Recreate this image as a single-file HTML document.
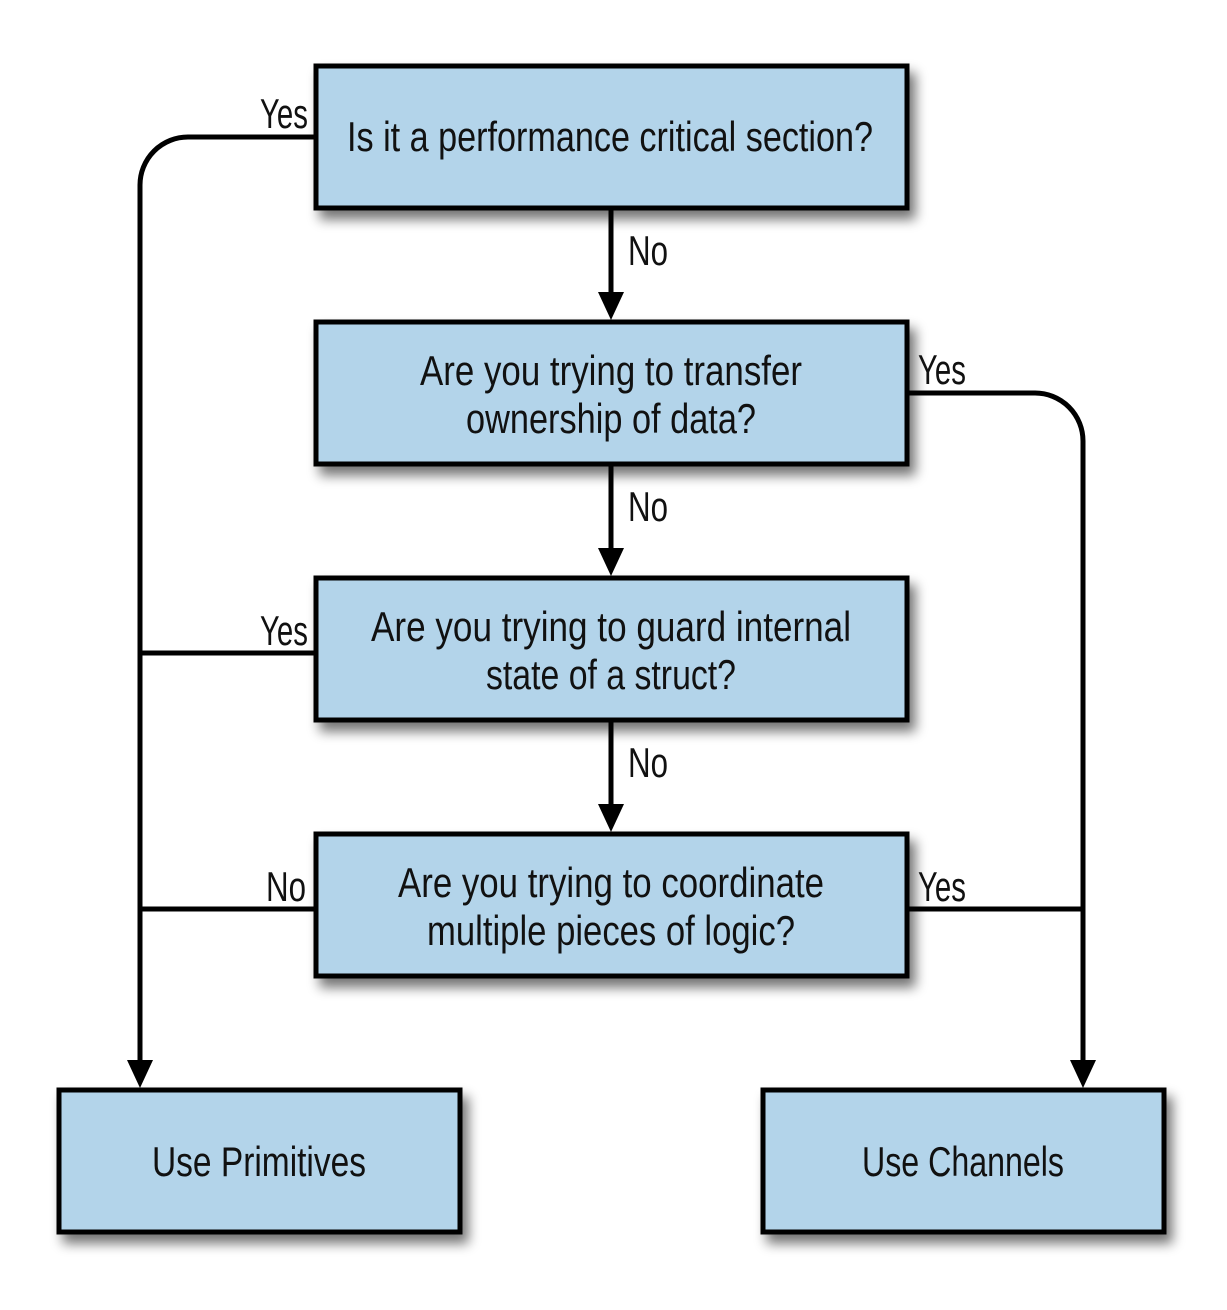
<!DOCTYPE html>
<html><head><meta charset="utf-8"><style>
html,body{margin:0;padding:0;background:#fff;}
svg{display:block}
text{font-family:"Liberation Sans Narrow","Liberation Sans",sans-serif;font-size:42px;fill:#111}
</style></head><body>
<svg width="1227" height="1310" viewBox="0 0 1227 1310" xmlns="http://www.w3.org/2000/svg">
<defs>
<filter id="sh" x="-10%" y="-10%" width="130%" height="140%">
<feGaussianBlur in="SourceAlpha" stdDeviation="6"/>
<feOffset dx="6" dy="9" result="b"/>
<feComponentTransfer><feFuncA type="linear" slope="0.55"/></feComponentTransfer>
<feMerge><feMergeNode/><feMergeNode in="SourceGraphic"/></feMerge>
</filter>
</defs>
<g fill="#b3d4ea" stroke="#000" stroke-width="5" filter="url(#sh)">
<rect x="316" y="66" width="591" height="142"/>
<rect x="316" y="322" width="591" height="142"/>
<rect x="316" y="578" width="591" height="142"/>
<rect x="316" y="834" width="591" height="142"/>
<rect x="59" y="1090" width="401" height="142"/>
<rect x="763" y="1090" width="401" height="142"/>
</g>
<g fill="none" stroke="#000" stroke-width="5">
<path d="M314 137 H188 A48 48 0 0 0 140 185 V1065"/>
<path d="M140 653 H314"/>
<path d="M140 909 H314"/>
<path d="M909 393 H1035 A48 48 0 0 1 1083 441 V1065"/>
<path d="M909 909 H1083"/>
<path d="M611 210 V295"/>
<path d="M611 466 V551"/>
<path d="M611 722 V807"/>
</g>
<g fill="#000">
<polygon points="127,1060 153,1060 140,1088"/>
<polygon points="1070,1060 1096,1060 1083,1088"/>
<polygon points="598,292 624,292 611,320"/>
<polygon points="598,548 624,548 611,576"/>
<polygon points="598,804 624,804 611,832"/>
</g>
<g text-anchor="middle">
<text x="610" y="151" textLength="526" lengthAdjust="spacingAndGlyphs">Is it a performance critical section?</text>
<text x="611" y="385" textLength="382" lengthAdjust="spacingAndGlyphs">Are you trying to transfer</text>
<text x="611" y="433" textLength="290" lengthAdjust="spacingAndGlyphs">ownership of data?</text>
<text x="611" y="641" textLength="480" lengthAdjust="spacingAndGlyphs">Are you trying to guard internal</text>
<text x="611" y="689" textLength="250" lengthAdjust="spacingAndGlyphs">state of a struct?</text>
<text x="611" y="897" textLength="426" lengthAdjust="spacingAndGlyphs">Are you trying to coordinate</text>
<text x="611" y="945" textLength="368" lengthAdjust="spacingAndGlyphs">multiple pieces of logic?</text>
<text x="259" y="1176" textLength="214" lengthAdjust="spacingAndGlyphs">Use Primitives</text>
<text x="963" y="1176" textLength="202" lengthAdjust="spacingAndGlyphs">Use Channels</text>
</g>
<g>
<text x="260" y="128" textLength="48" lengthAdjust="spacingAndGlyphs">Yes</text>
<text x="628" y="265" textLength="40" lengthAdjust="spacingAndGlyphs">No</text>
<text x="918" y="384" textLength="48" lengthAdjust="spacingAndGlyphs">Yes</text>
<text x="628" y="521" textLength="40" lengthAdjust="spacingAndGlyphs">No</text>
<text x="260" y="645" textLength="48" lengthAdjust="spacingAndGlyphs">Yes</text>
<text x="628" y="777" textLength="40" lengthAdjust="spacingAndGlyphs">No</text>
<text x="266" y="901" textLength="40" lengthAdjust="spacingAndGlyphs">No</text>
<text x="918" y="901" textLength="48" lengthAdjust="spacingAndGlyphs">Yes</text>
</g>
<text x="613" y="1332" text-anchor="middle" style="font-family:'Liberation Serif',serif;font-size:32px;fill:#222">Figure 2-1. Decision tree</text>
</svg>
</body></html>
